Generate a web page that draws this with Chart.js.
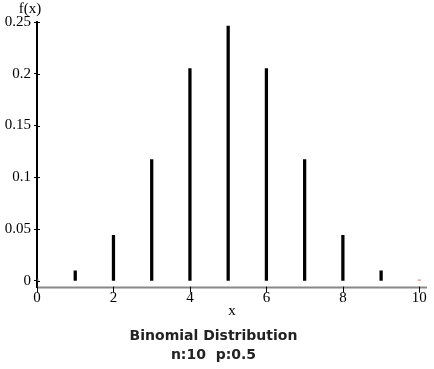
<!DOCTYPE html>
<html>
<head>
<meta charset="utf-8">
<script src="https://cdn.jsdelivr.net/npm/chart.js@4"></script>
<style>
  html, body { margin: 0; padding: 0; background: #fff; }
  #wrap { width: 434px; height: 369px; }
</style>
</head>
<body>
<div id="wrap"><canvas id="binomChart" width="434" height="369"></canvas></div>
<script>
// values (n = 10, p = 0.5)
const xValues = [0, 1, 2, 3, 4, 5, 6, 7, 8, 9, 10];
const probabilities = [0.001, 0.0098, 0.0439, 0.1172, 0.2051, 0.2461, 0.2051, 0.1172, 0.0439, 0.0098, 0.001];
const xTicks = [0, 2, 4, 6, 8, 10];
const yTicks = [0, 0.05, 0.1, 0.15, 0.2, 0.25];
const yTickLabels = ['0', '0.05', '0.1', '0.15', '0.2', '0.25'];

const serif = "'Liberation Serif', 'DejaVu Serif', serif";

const barColors = xValues.map(function (x, i) {
    if (i === 0) return '#777';
    if (i === xValues.length - 1) return '#f28b8b';
    return '#000';
});

// x axis line + ticks, right half of the y ticks, and the f(x) label
const axisExtras = {
    id: 'axisExtras',
    afterDraw(chart) {
        const ctx = chart.ctx;
        const x = chart.scales.x;
        const y = chart.scales.y;
        const area = chart.chartArea;
        ctx.save();

        ctx.strokeStyle = '#888';
        ctx.lineWidth = 2;
        ctx.beginPath();
        ctx.moveTo(area.left, area.bottom);
        ctx.lineTo(area.right, area.bottom);
        ctx.stroke();

        ctx.strokeStyle = '#000';
        ctx.lineWidth = 1;
        xTicks.forEach(function (v) {
            const px = Math.round(x.getPixelForValue(v)) + 0.5;
            ctx.beginPath();
            ctx.moveTo(px, area.bottom - 1);
            ctx.lineTo(px, area.bottom + 5);
            ctx.stroke();
        });
        yTicks.forEach(function (v) {
            const py = Math.round(y.getPixelForValue(v)) + 0.5;
            ctx.beginPath();
            ctx.moveTo(y.right, py);
            ctx.lineTo(y.right + 3, py);
            ctx.stroke();
        });

        ctx.fillStyle = '#000';
        ctx.font = '15px ' + serif;
        ctx.textAlign = 'center';
        ctx.textBaseline = 'middle';
        ctx.fillText('f(x)', 30, 9);
        ctx.restore();
    }
};

const ctx = document.getElementById('binomChart').getContext('2d');
const binomChart = new Chart(ctx, {
    type: 'bar',
    data: {
        datasets: [{
            data: xValues.map(function (x, i) { return { x: x, y: probabilities[i] }; }),
            backgroundColor: barColors,
            borderWidth: 0,
            barThickness: 2.6
        }]
    },
    options: {
        responsive: false,
        animation: false,
        layout: { padding: { top: 22, right: 7, bottom: 5, left: 0 } },
        plugins: {
            legend: { display: false },
            tooltip: { enabled: false },
            title: {
                display: true,
                position: 'bottom',
                text: ['Binomial Distribution', 'n:10  p:0.5'],
                color: '#222',
                font: { family: "'DejaVu Sans', Verdana, sans-serif", weight: 'bold', size: 14, lineHeight: 1.3 },
                padding: { top: 0, bottom: 0 }
            }
        },
        scales: {
            x: {
                type: 'linear',
                offset: false,
                min: 0,
                max: 10.2,
                afterBuildTicks(scale) { scale.ticks = xTicks.map(function (v) { return { value: v }; }); },
                afterFit(scale) { scale.height = 40; },
                grid: { display: true, drawOnChartArea: false, drawTicks: true, tickLength: 1, color: 'rgba(0,0,0,0)' },
                border: { display: false },
                ticks: { color: '#000', padding: 0, maxRotation: 0, font: { family: serif, size: 15 } },
                title: { display: true, text: 'x', color: '#000', padding: 8, font: { family: serif, size: 15 } }
            },
            y: {
                min: -0.0065,
                max: 0.25,
                afterBuildTicks(scale) { scale.ticks = yTicks.map(function (v) { return { value: v }; }); },
                afterFit(scale) { scale.width = 37; },
                grid: { display: true, drawOnChartArea: false, drawTicks: true, tickLength: 3, color: '#000' },
                border: { display: true, color: '#000', width: 2 },
                ticks: {
                    color: '#000',
                    padding: 3,
                    font: { family: serif, size: 15 },
                    callback: function (v) {
                        const i = yTicks.indexOf(v);
                        return i >= 0 ? yTickLabels[i] : '';
                    }
                }
            }
        }
    },
    plugins: [axisExtras]
});
</script>
</body>
</html>
